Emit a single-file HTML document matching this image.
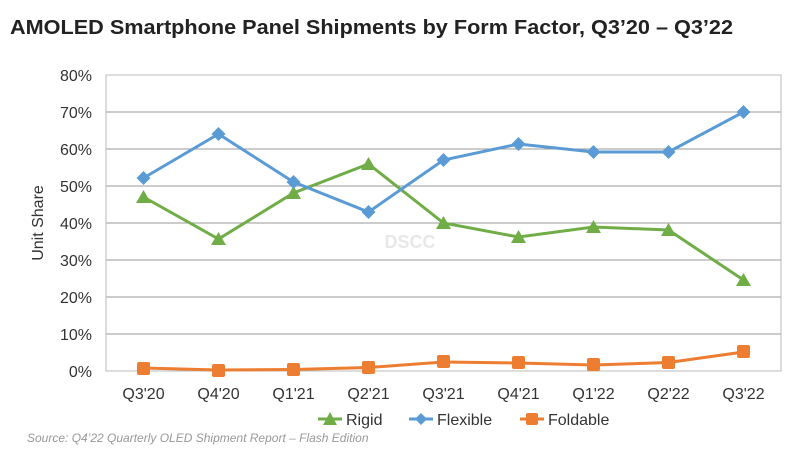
<!DOCTYPE html>
<html><head><meta charset="utf-8"><style>
body{margin:0;background:#fff;width:800px;height:459px;overflow:hidden}
</style></head><body>
<svg width="800" height="459" xmlns="http://www.w3.org/2000/svg" font-family="Liberation Sans, Arial, sans-serif">
<text x="10" y="34" font-size="20" font-weight="bold" fill="#222" textLength="723" lengthAdjust="spacingAndGlyphs">AMOLED Smartphone Panel Shipments by Form Factor, Q3’20 – Q3’22</text>
<g stroke="#999" stroke-width="1">
<line x1="106" y1="112" x2="781" y2="112"/><line x1="106" y1="149" x2="781" y2="149"/>
<line x1="106" y1="186" x2="781" y2="186"/><line x1="106" y1="223" x2="781" y2="223"/>
<line x1="106" y1="260" x2="781" y2="260"/><line x1="106" y1="297" x2="781" y2="297"/>
<line x1="106" y1="334" x2="781" y2="334"/>
</g>
<rect x="106" y="75" width="675" height="296" fill="none" stroke="#bbb" stroke-width="1"/>
<g font-size="16" fill="#333" text-anchor="end">
<text x="92" y="81">80%</text><text x="92" y="118">70%</text><text x="92" y="155">60%</text>
<text x="92" y="192">50%</text><text x="92" y="229">40%</text><text x="92" y="266">30%</text>
<text x="92" y="303">20%</text><text x="92" y="340">10%</text><text x="92" y="377">0%</text>
</g>
<text transform="translate(43,223) rotate(-90)" font-size="16" fill="#333" text-anchor="middle">Unit Share</text>
<g font-size="16" fill="#333" text-anchor="middle">
<text x="143.5" y="399">Q3'20</text><text x="218.5" y="399">Q4'20</text><text x="293.5" y="399">Q1'21</text>
<text x="368.5" y="399">Q2'21</text><text x="443.5" y="399">Q3'21</text><text x="518.5" y="399">Q4'21</text>
<text x="593.5" y="399">Q1'22</text><text x="668.5" y="399">Q2'22</text><text x="743.5" y="399">Q3'22</text>
</g>
<text x="410" y="248" font-size="18" fill="#e8e8e8" text-anchor="middle" font-weight="bold">DSCC</text>
<polyline fill="none" stroke="#70ad47" stroke-width="3" points="143.5,197 218.5,239 293.5,193 368.5,164 443.5,223 518.5,237 593.5,227 668.5,230 743.5,280"/>
<g fill="#70ad47">
<polygon points="143.5,190 151,203 136,203"/><polygon points="218.5,232 226,245 211,245"/>
<polygon points="293.5,186 301,199 286,199"/><polygon points="368.5,157 376,170 361,170"/>
<polygon points="443.5,216 451,229 436,229"/><polygon points="518.5,230 526,243 511,243"/>
<polygon points="593.5,220 601,233 586,233"/><polygon points="668.5,223 676,236 661,236"/>
<polygon points="743.5,273 751,286 736,286"/>
</g>
<polyline fill="none" stroke="#5b9bd5" stroke-width="3" points="143.5,178 218.5,134 293.5,182 368.5,212 443.5,160 518.5,144 593.5,152 668.5,152 743.5,112"/>
<g fill="#5b9bd5">
<polygon points="143.5,171 150.5,178 143.5,185 136.5,178"/><polygon points="218.5,127 225.5,134 218.5,141 211.5,134"/>
<polygon points="293.5,175 300.5,182 293.5,189 286.5,182"/><polygon points="368.5,205 375.5,212 368.5,219 361.5,212"/>
<polygon points="443.5,153 450.5,160 443.5,167 436.5,160"/><polygon points="518.5,137 525.5,144 518.5,151 511.5,144"/>
<polygon points="593.5,145 600.5,152 593.5,159 586.5,152"/><polygon points="668.5,145 675.5,152 668.5,159 661.5,152"/>
<polygon points="743.5,105 750.5,112 743.5,119 736.5,112"/>
</g>
<polyline fill="none" stroke="#ed7d31" stroke-width="3" points="143.5,368 218.5,370 293.5,369.5 368.5,367.5 443.5,362 518.5,363 593.5,365 668.5,362.5 743.5,352"/>
<g fill="#ed7d31">
<rect x="137" y="362" width="13" height="13" rx="2"/><rect x="212" y="364" width="13" height="13" rx="2"/>
<rect x="287" y="363" width="13" height="13" rx="2"/><rect x="362" y="361" width="13" height="13" rx="2"/>
<rect x="437" y="355" width="13" height="13" rx="2"/><rect x="512" y="356" width="13" height="13" rx="2"/>
<rect x="587" y="358" width="13" height="13" rx="2"/><rect x="662" y="356" width="13" height="13" rx="2"/>
<rect x="737" y="345" width="13" height="13" rx="2"/>
</g>
<g font-size="16" fill="#333">
<line x1="318" y1="419" x2="342" y2="419" stroke="#70ad47" stroke-width="3"/><polygon points="330,412 337,425 323,425" fill="#70ad47"/>
<text x="346" y="425">Rigid</text>
<line x1="409" y1="419" x2="433" y2="419" stroke="#5b9bd5" stroke-width="3"/><polygon points="421,413 427,419 421,425 415,419" fill="#5b9bd5"/>
<text x="437" y="425">Flexible</text>
<line x1="520" y1="419" x2="544" y2="419" stroke="#ed7d31" stroke-width="3"/><rect x="526" y="413" width="12" height="12" rx="2" fill="#ed7d31"/>
<text x="548" y="425">Foldable</text>
</g>
<text x="27" y="442" font-size="12" font-style="italic" fill="#999">Source: Q4’22 Quarterly OLED Shipment Report – Flash Edition</text>
</svg>
</body></html>
